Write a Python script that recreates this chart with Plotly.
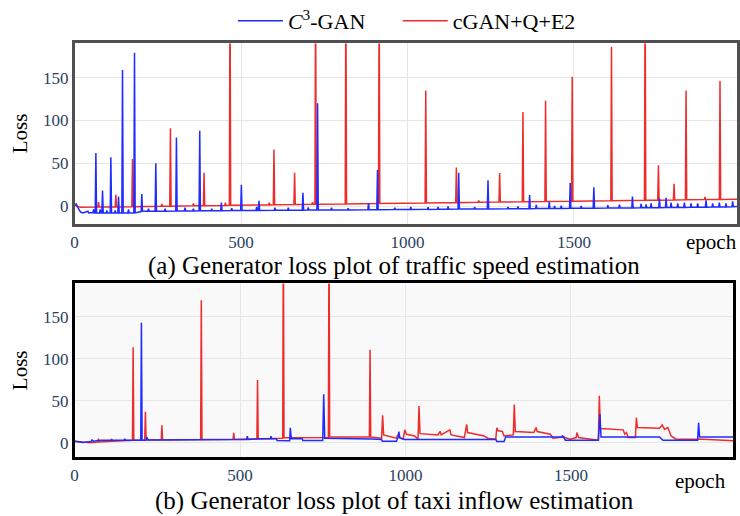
import plotly.graph_objects as go

# ---------------- data: panel (a) traffic speed ----------------
a_c3_epoch = [0,5,10,18,25,40,42,55,57,59,62,64,66,75,77,79,82,84,86,95,97,99,107,109,111,120,122,124,130,132,134,142,144,146,160,162,164,178,180,182,200,202,204,220,222,224,242,244,246,270,272,274,304,306,308,330,332,334,355,357,359,374,376,378,410,412,414,439,441,443,470,472,474,499,501,503,545,547,549,552,554,556,600,602,604,640,642,644,684,686,688,700,702,704,728,730,732,770,772,774,820,822,824,881,883,885,908,910,912,960,962,964,1008,1010,1012,1060,1062,1064,1090,1092,1094,1120,1122,1124,1152,1154,1156,1200,1202,1204,1240,1242,1244,1300,1302,1304,1330,1332,1334,1365,1367,1369,1385,1387,1389,1424,1426,1428,1440,1442,1444,1460,1462,1464,1487,1489,1491,1520,1522,1524,1558,1560,1562,1600,1602,1604,1635,1637,1639,1674,1676,1678,1700,1702,1704,1715,1717,1719,1730,1732,1734,1755,1757,1759,1775,1777,1779,1790,1792,1794,1810,1812,1814,1830,1832,1834,1850,1852,1854,1870,1872,1874,1895,1897,1899,1915,1917,1919,1935,1937,1939,1955,1957,1959,1975,1977,1979,1995]
a_c3_loss = [1,2.5,-2,-7,-8,-6,-8,-7.5,-4,-8,-8,62,-8,-8,-4,-8,-8,18,-8,-8,-5,-8,-8,57,-8,-8,-5,-8,-8,11,-8,-8,159,-8,-8,-4,-8,-8,179,-8,-6.5,14,-6,-6,-3,-6,-6,50,-6,-6,-3,-6,-5.9,80,-5.9,-5.8,-2,-5.8,-5.7,-3,-5.7,-5.6,88,-5.6,-5.5,-3,-5.5,-5.4,4,-5.4,-5.3,-2.5,-5.3,-5.2,25,-5.2,-5.1,-1,-5.1,-5.1,6,-5.1,-5,-2,-5,-4.9,-2,-4.9,-4.8,15.5,-4.8,-4.7,-1.5,-4.7,-4.7,120,-4.7,-4.6,-2,-4.6,-4.5,-2.5,-4.5,-4.4,3.5,-4.4,-4.3,42,-4.3,-4.1,-2,-4.1,-4,-1,-4,-3.9,-1.5,-3.9,-3.8,-1,-3.8,-3.7,-0.5,-3.7,-3.6,39,-3.6,-3.5,-1,-3.5,-3.4,30,-3.4,-3.3,-1,-3.3,-3.2,-0.5,-3.2,-3.1,13,-3.1,-3,1.5,-3,-2.9,4.7,-2.9,-2.9,0,-2.9,-2.8,0.5,-2.8,-2.7,27,-2.7,-2.6,0,-2.6,-2.5,22,-2.5,-2.4,1,-2.4,-2.3,1.5,-2.3,-2.2,11,-2.2,-2.1,2.5,-2.1,-2,2,-2,-2,3,-2,-1.9,8.6,-1.9,-1.8,9.7,-1.8,-1.8,4,-1.8,-1.7,3,-1.7,-1.6,4,-1.6,-1.5,3,-1.5,-1.4,3,-1.4,-1.3,6.6,-1.3,-1.2,3,-1.2,-1.1,4,-1.1,-1,3,-1,-0.9,5.5,-0.9,-0.5]

a_cq_epoch = [0,8,20,70,72,74,122,124,126,172,174,176,260,262,264,286,288,290,355,357,359,387,389,391,451,453,455,465,467,469,583,585,587,597,599,601,659,661,663,713,715,717,722,724,726,813,815,817,913,915,917,1053,1055,1057,1145,1147,1149,1212,1214,1216,1275,1277,1279,1345,1347,1349,1413,1415,1417,1493,1495,1497,1611,1613,1615,1712,1714,1716,1752,1754,1756,1799,1801,1803,1835,1837,1839,1892,1894,1896,1937,1939,1941,1995]
a_cq_loss = [1.5,-0.5,-1.5,-1.2,4.7,-1.2,-1,13,-1,-0.8,55,-0.8,-0.3,2.5,-0.3,-0.2,91,-0.2,0.2,3,0.2,0.3,39,0.3,0.7,4,0.7,0.8,260,0.8,1.3,4,1.3,1.4,66,1.4,1.7,39,1.7,2,4.5,2,2,260,2,2.4,260,2.4,2.9,260,2.9,3.5,135,3.5,4,45,4,4.3,6.5,4.3,4.6,38.5,4.6,5,110,5,5.3,123,5.3,5.7,151,5.7,6.2,186,6.2,6.7,260,6.7,6.9,47.5,6.9,7.1,26,7.1,7.3,135,7.3,7.5,10.5,7.5,7.7,146,7.7,8]

# ---------------- data: panel (b) taxi inflow ----------------
b_c3_epoch = [0,25,50,53,56,80,110,112,114,150,152,154,175,200,202,204,216,218,222,520,522,524,560,592,594,596,610,612,650,652,655,688,690,750,753,756,898,928,930,973,978,980,983,998,1273,1276,1298,1303,1473,1474,1478,1483,1583,1588,1591,1768,1778,1883,1886,1889,1998]
b_c3_loss = [2,0.5,1.5,4,2,3,3,4.5,3,3,4.8,3,3,3,143,3,3,7,3.5,4,8,4,5,5,8,5,5,2.8,2.5,18,5,5,2.8,2.8,58,5.5,4.5,4,2,2,7,13.5,6,4,4,1.6,1.6,7,7,8.7,7,3.2,3.2,34,7,7,3.2,3.2,24,7,7]

b_cq_epoch = [0,25,47,70,72,74,100,147,175,177,179,212,214,216,220,262,264,266,381,383,385,479,481,483,551,553,555,629,631,633,767,769,771,891,893,895,928,931,934,973,976,983,993,998,1003,1028,1038,1041,1044,1098,1105,1108,1134,1138,1178,1185,1188,1238,1248,1273,1276,1280,1293,1298,1326,1329,1332,1388,1395,1398,1438,1446,1478,1498,1516,1518,1523,1583,1586,1589,1658,1663,1668,1673,1695,1698,1701,1768,1776,1783,1793,1803,1813,1818,1898,1948,1998]
b_cq_loss = [2,1,0,1,5,1,1.5,3,3,114,3,3,37,7,3.5,3.5,21,3.5,4,170,4,4.3,12,4.3,4.7,75,4.7,5.5,260,6,6.5,260,7,7,111,7,5.5,33,9.5,5.6,9.5,6.3,4.4,15.5,10.3,8.3,4.4,44,11,9.5,13.5,9.5,15.5,9.5,6.3,22,12.3,8.3,5.6,4.4,18,14.3,13.5,8.3,9.5,45.6,13.5,12.3,18.3,13.5,10.3,5.6,7,4.4,6.3,12.3,6.3,3.2,56,17,15.5,10.3,12.3,6.3,6.3,30,18.3,17.5,21.4,16,18.3,8.3,6.3,4.4,4.4,3.2,2.4]

series_names = ["<i>C</i><sup>3</sup>-GAN", "cGAN+Q+E2"]
y_ticks = [0, 50, 100, 150]
x_ticks = [0, 500, 1000, 1500]
captions = ["(a) Generator loss plot of traffic speed estimation",
            "(b) Generator loss plot of taxi inflow estimation"]

BLUE = "#1f2bff"
RED = "#ee2c2c"
FONT = "Liberation Serif"
GAP = "\u00a0" * 5  # extra spacing after the first legend entry

fig = go.Figure()
fig.add_trace(go.Scatter(x=a_cq_epoch, y=a_cq_loss, mode="lines", name=series_names[1],
                         line=dict(color=RED, width=1.5), legendrank=2, xaxis="x", yaxis="y"))
fig.add_trace(go.Scatter(x=a_c3_epoch, y=a_c3_loss, mode="lines", name=series_names[0] + GAP,
                         line=dict(color=BLUE, width=1.5), legendrank=1, xaxis="x", yaxis="y"))
fig.add_trace(go.Scatter(x=b_cq_epoch, y=b_cq_loss, mode="lines", name=series_names[1],
                         line=dict(color=RED, width=1.5), showlegend=False, xaxis="x2", yaxis="y2"))
fig.add_trace(go.Scatter(x=b_c3_epoch, y=b_c3_loss, mode="lines", name=series_names[0],
                         line=dict(color=BLUE, width=1.5), showlegend=False, xaxis="x2", yaxis="y2"))

tickfont = dict(family=FONT, size=17, color="#2a3f5f")
common_x = dict(range=[0, 1990], tickvals=x_ticks, showgrid=True, gridcolor="#e6e6e6",
                zeroline=False, showline=True, mirror=True, linewidth=2.5, ticks="",
                tickfont=tickfont, ticklabelstandoff=1)
common_y = dict(tickvals=y_ticks, showgrid=True, gridcolor="#e6e6e6", zeroline=False,
                showline=True, mirror=True, linewidth=2.5, ticks="", tickfont=tickfont,
                title=dict(text="Loss", font=dict(family=FONT, size=21, color="black"), standoff=10))

fig.update_layout(
    width=740, height=516, autosize=False,
    margin=dict(l=0, r=0, t=0, b=0),
    paper_bgcolor="white", plot_bgcolor="white",
    font=dict(family=FONT, color="black"),
    xaxis=dict(common_x, domain=[0.0959, 0.9959], anchor="y", linecolor="#505050"),
    yaxis=dict(common_y, domain=[0.5678, 0.9176], anchor="x", range=[-20.5, 190], linecolor="#505050"),
    xaxis2=dict(common_x, domain=[0.0959, 0.9905], anchor="y2", linecolor="black"),
    yaxis2=dict(common_y, domain=[0.1143, 0.4516], anchor="x2", range=[-17, 190], linecolor="black"),
    legend=dict(orientation="h", x=0.311, xanchor="left", y=0.962, yanchor="middle",
                font=dict(family=FONT, size=22, color="black"), itemwidth=45,
                bgcolor="rgba(0,0,0,0)"),
    showlegend=True,
)

fig.add_shape(type="rect", xref="x2 domain", yref="y2 domain", x0=0, x1=1, y0=0, y1=1,
              fillcolor="#f9f9f9", line=dict(width=0), layer="below")

cap_font = dict(family=FONT, size=25, color="black")
ep_font = dict(family=FONT, size=21, color="black")
fig.add_annotation(text=captions[0], xref="paper", yref="paper", x=0.5297, y=0.4855,
                   xanchor="center", yanchor="middle", showarrow=False, font=cap_font)
fig.add_annotation(text=captions[1], xref="paper", yref="paper", x=0.5310, y=0.0290,
                   xanchor="center", yanchor="middle", showarrow=False, font=cap_font)
fig.add_annotation(text="epoch", xref="paper", yref="paper", x=0.9608, y=0.533,
                   xanchor="center", yanchor="middle", showarrow=False, font=ep_font)
fig.add_annotation(text="epoch", xref="paper", yref="paper", x=0.9470, y=0.068,
                   xanchor="center", yanchor="middle", showarrow=False, font=ep_font)

fig.write_html("out.html")
